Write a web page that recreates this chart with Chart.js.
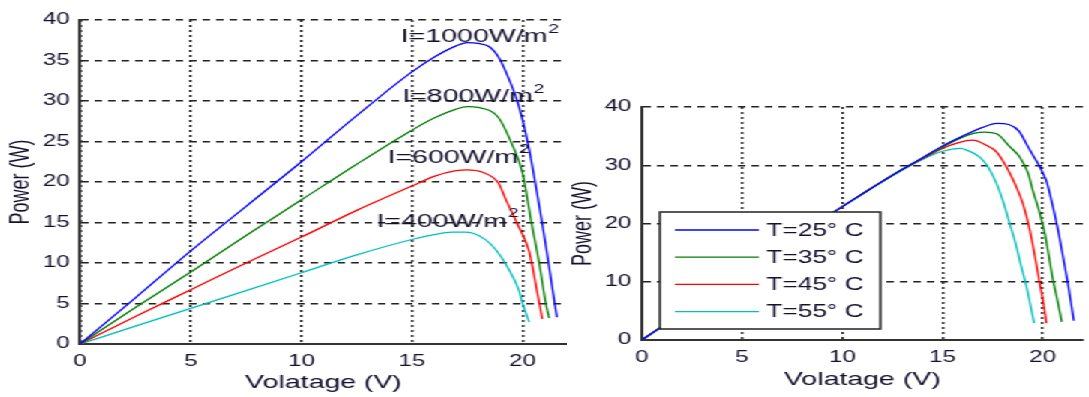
<!DOCTYPE html>
<html>
<head>
<meta charset="utf-8">
<script src="https://cdn.jsdelivr.net/npm/chart.js@4.4.1/dist/chart.umd.min.js"></script>
<style>
  body { margin: 0; background: #fff; }
  /* the source figure is stretched sideways, so the charts are drawn narrow and widened */
  #wrap { position: absolute; left: 0; top: 0; width: 726px; height: 397px;
          transform: scaleX(1.5); transform-origin: 0 0; }
  .panel { position: absolute; top: 0; }
</style>
</head>
<body>
<div id="wrap">
  <div class="panel" style="left:0"><canvas id="irradiance" width="378" height="397"></canvas></div>
  <div class="panel" style="left:378px"><canvas id="temperature" width="350" height="397"></canvas></div>
</div>
<script>
// DATA - left panel, P-V curves at four irradiance levels
const irrLabels = ["I=1000W/m", "I=800W/m", "I=600W/m", "I=400W/m"];
const v1000 = [0, 2.5, 5, 7.5, 10, 12.5, 15, 16, 17, 17.5, 18, 18.5, 18.94, 19.46, 19.76, 20.06, 20.3, 20.6, 20.85, 21.1, 21.35, 21.55];
const p1000 = [0, 5.7, 11.5, 17.0, 22.5, 28.2, 33.6, 35.4, 36.8, 37.2, 37.1, 36.7, 35.3, 32.2, 30.0, 27.0, 24.0, 19.5, 15.5, 11.3, 6.8, 3.3];
const v800 = [0, 2.5, 5, 7.5, 10, 12.5, 15, 16, 17, 17.5, 18, 18.9, 19.5, 20.0, 20.4, 20.75, 21.05, 21.2];
const p800 = [0, 4.5, 8.9, 13.4, 17.8, 22.2, 26.4, 27.9, 29.0, 29.3, 29.2, 28.0, 24.8, 21.1, 15, 10, 5, 3.2];
const v600 = [0, 2.5, 5, 7.5, 10, 12.5, 15, 16, 17, 17.5, 18.2, 18.9, 19.25, 19.75, 20.3, 20.6, 20.89];
const p600 = [0, 3.4, 6.7, 10.0, 13.2, 16.5, 19.5, 20.7, 21.4, 21.5, 21.2, 19.9, 17.8, 14.9, 11.4, 7.3, 3.1];
const v400 = [0, 2.5, 5, 7.5, 10, 12.5, 15, 16, 16.8, 17.4, 18.2, 18.8, 19.4, 19.84, 20.0, 20.3];
const p400 = [0, 2.2, 4.4, 6.6, 8.8, 11.0, 12.9, 13.5, 13.8, 13.8, 13.1, 11.6, 9.1, 6.6, 5.0, 2.7];

// DATA - right panel, P-V curves at four cell temperatures
const tempLabels = ["T=25\u00b0 C", "T=35\u00b0 C", "T=45\u00b0 C", "T=55\u00b0 C"];
const v25 = [0, 2.5, 5, 7.5, 10, 12.5, 14, 15, 16, 17, 17.7, 18.3, 18.8, 19.26, 19.51, 19.76, 20.0, 20.2, 20.43, 20.76, 21.0, 21.25, 21.55];
const p25 = [0, 5.8, 11.6, 17.3, 22.9, 28.3, 31.3, 33.3, 35.0, 36.5, 37.2, 37.0, 35.9, 33.2, 31.7, 30.3, 28.7, 27.1, 24.0, 18.9, 14.5, 9.8, 3.3];
const v35 = [0, 2.5, 5, 7.5, 10, 12.5, 14, 15, 16, 16.6, 17.1, 17.7, 18.35, 18.85, 19.27, 19.5, 19.85, 20.1, 20.3, 20.5, 20.75, 20.95];
const p35 = [0, 5.8, 11.6, 17.3, 22.9, 28.3, 31.2, 33.1, 34.8, 35.5, 35.7, 35.4, 33.2, 31.4, 28.6, 25.7, 21.8, 18.3, 14.5, 10.5, 6.5, 3.1];
const v45 = [0, 2.5, 5, 7.5, 10, 12.5, 14, 15, 15.8, 16.5, 17.2, 17.69, 18.19, 18.6, 19.0, 19.35, 19.6, 19.85, 20.05, 20.18];
const p45 = [0, 5.8, 11.6, 17.3, 22.9, 28.3, 31.1, 32.9, 33.9, 34.3, 33.4, 32.3, 29.7, 26.9, 23.5, 18.9, 14.5, 9.7, 6.0, 2.9];
const v55 = [0, 2.5, 5, 7.5, 10, 12.5, 14, 15, 15.9, 16.2, 16.86, 17.27, 17.69, 18.0, 18.35, 18.65, 18.9, 19.19, 19.57];
const p55 = [0, 5.8, 11.6, 17.3, 22.9, 28.2, 31.0, 32.4, 32.9, 32.6, 31.4, 29.7, 26.9, 24.0, 20.0, 16.5, 13.0, 9.1, 2.9];

// TICKS
const xTicks = [0, 5, 10, 15, 20];
const yTicksLeft = [0, 5, 10, 15, 20, 25, 30, 35, 40];
const yTicksRight = [0, 10, 20, 30, 40];

const lineColors = ["#0000ff", "#008000", "#ff0000", "#00bfbf"];
const txt = "#14102e";

Chart.defaults.font.family = "'Liberation Sans', Arial, sans-serif";
Chart.defaults.color = txt;

function pts(v, p) {
  return v.map((x, i) => ({ x: x, y: p[i] }));
}

function makeSets(labels, vs, ps) {
  return labels.map((l, i) => ({
    label: l,
    data: pts(vs[i], ps[i]),
    borderColor: lineColors[i],
    backgroundColor: lineColors[i],
    borderWidth: 1.3,
    pointRadius: 0,
    cubicInterpolationMode: "monotone",
    fill: false,
  }));
}

function makeScales(yTicks, yWidth, xHeight) {
  return {
    x: {
      type: "linear",
      min: 0,
      max: 22,
      afterBuildTicks: s => { s.ticks = xTicks.map(v => ({ value: v })); },
      afterFit: s => { s.height = xHeight; },
      grid: { color: "#222", lineWidth: 1.6, drawTicks: false },
      border: { color: "#333", width: 2, dash: [2, 3] },
      ticks: { color: txt, font: { size: 16 }, padding: 8, maxRotation: 0 },
      title: { display: true, text: "Volatage (V)", color: txt, font: { size: 19 }, padding: 0 },
    },
    y: {
      type: "linear",
      min: 0,
      max: 40,
      afterBuildTicks: s => { s.ticks = yTicks.map(v => ({ value: v })); },
      afterFit: s => { s.width = yWidth; },
      grid: { color: "#222", lineWidth: 1.5, drawTicks: false },
      border: { color: "#333", width: 2, dash: [5, 4] },
      ticks: { color: txt, font: { size: 16 }, padding: 7 },
      title: { display: true, text: "Power (W)", color: txt, font: { size: 18 }, padding: { top: 0.5, bottom: 0 } },
    },
  };
}

// irradiance labels written next to each curve
const irrNotes = {
  id: "irrNotes",
  afterDatasetsDraw(chart) {
    const anchors = [[14.5, 37.9], [14.56, 30.5], [13.9, 23.0], [13.4, 15.1]];
    const { ctx, scales } = chart;
    ctx.save();
    ctx.fillStyle = txt;
    ctx.textBaseline = "middle";
    ctx.textAlign = "left";
    irrLabels.forEach((l, i) => {
      const x = scales.x.getPixelForValue(anchors[i][0]);
      const y = scales.y.getPixelForValue(anchors[i][1]);
      ctx.font = "19px 'Liberation Sans', Arial, sans-serif";
      ctx.fillText(l, x, y);
      const w = ctx.measureText(l).width;
      ctx.font = "13px 'Liberation Sans', Arial, sans-serif";
      ctx.fillText("2", x + w + 0.5, y - 8);
    });
    ctx.restore();
  },
};

// boxed legend sitting inside the plot, lower left
const boxLegend = {
  id: "boxLegend",
  afterDatasetsDraw(chart) {
    const { ctx, chartArea } = chart;
    const w = 147, h = 117;
    const left = chartArea.left + 12;
    const top = chartArea.bottom - 11 - h;
    ctx.save();
    ctx.fillStyle = "#fff";
    ctx.fillRect(left, top, w, h);
    ctx.strokeStyle = "#222";
    ctx.lineWidth = 1.5;
    ctx.strokeRect(left, top, w, h);
    ctx.font = "17.5px 'Liberation Sans', Arial, sans-serif";
    ctx.textBaseline = "middle";
    chart.data.datasets.forEach((ds, i) => {
      const y = top + 18 + i * 27.2;
      ctx.strokeStyle = ds.borderColor;
      ctx.lineWidth = 1.3;
      ctx.beginPath();
      ctx.moveTo(left + 10, y);
      ctx.lineTo(left + 66, y);
      ctx.stroke();
      ctx.fillStyle = txt;
      ctx.fillText(ds.label, left + 71, y + 1);
    });
    ctx.restore();
  },
};

new Chart(document.getElementById("irradiance").getContext("2d"), {
  type: "line",
  data: { datasets: makeSets(irrLabels, [v1000, v800, v600, v400], [p1000, p800, p600, p400]) },
  options: {
    responsive: false,
    animation: false,
    layout: { padding: { left: 3, right: 0, top: 20, bottom: 3 } },
    scales: makeScales(yTicksLeft, 50.3, 50),
    plugins: { legend: { display: false }, tooltip: { enabled: false } },
  },
  plugins: [irrNotes],
});

new Chart(document.getElementById("temperature").getContext("2d"), {
  type: "line",
  data: { datasets: makeSets(tempLabels, [v25, v35, v45, v55], [p25, p35, p45, p55]) },
  options: {
    responsive: false,
    animation: false,
    layout: { padding: { left: 0, right: 6, top: 107, bottom: 5.6 } },
    scales: makeScales(yTicksRight, 50, 51.4),
    plugins: { legend: { display: false }, tooltip: { enabled: false } },
  },
  plugins: [boxLegend],
});
</script>
</body>
</html>
